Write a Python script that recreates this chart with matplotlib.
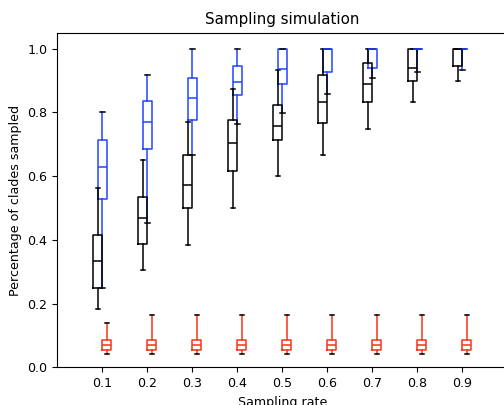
import matplotlib
matplotlib.use('Agg')
import matplotlib.pyplot as plt

# sampling rates
rates = ['0.1', '0.2', '0.3', '0.4', '0.5', '0.6', '0.7', '0.8', '0.9']

# black series (whisker low, q1, median, q3, whisker high)
black_lo = [0.182, 0.307, 0.383, 0.500, 0.600, 0.666, 0.749, 0.833, 0.899]
black_q1 = [0.250, 0.388, 0.500, 0.617, 0.714, 0.768, 0.833, 0.897, 0.945]
black_med = [0.333, 0.468, 0.571, 0.703, 0.756, 0.833, 0.888, 0.940, 1.0]
black_q3 = [0.416, 0.534, 0.666, 0.776, 0.822, 0.918, 0.954, 1.0, 1.0]
black_hi = [0.562, 0.651, 0.769, 0.874, 0.933, 1.0, 1.0, 1.0, 1.0]

# blue series
blue_lo = [0.250, 0.454, 0.666, 0.764, 0.799, 0.857, 0.908, 0.928, 0.933]
blue_q1 = [0.528, 0.686, 0.776, 0.856, 0.888, 0.927, 0.939, 1.0, 1.0]
blue_med = [0.628, 0.771, 0.845, 0.894, 0.936, 1.0, 1.0, 1.0, 1.0]
blue_q3 = [0.714, 0.835, 0.908, 0.944, 1.0, 1.0, 1.0, 1.0, 1.0]
blue_hi = [0.800, 0.917, 1.0, 1.0, 1.0, 1.0, 1.0, 1.0, 1.0]

# red series
red_lo = [0.042] * 9
red_q1 = [0.055] * 9
red_med = [0.069] * 9
red_q3 = [0.085] * 9
red_hi = [0.141, 0.166, 0.166, 0.166, 0.166, 0.166, 0.166, 0.166, 0.166]


def make_stats(lo, q1, med, q3, hi):
	return [dict(whislo=a, q1=b, med=c, q3=d, whishi=e, fliers=[])
		for a, b, c, d, e in zip(lo, q1, med, q3, hi)]


def draw(ax, stats, offset, color):
	pos = [i + 1 + offset for i in range(len(stats))]
	ax.bxp(stats, positions=pos, widths=0.2, manage_ticks=False,
		boxprops=dict(color=color, linewidth=1.1),
		whiskerprops=dict(color=color, linewidth=1.1),
		medianprops=dict(color=color, linewidth=1.1),
		capprops=dict(color='k', linewidth=1.1))


def main():
	fig = plt.figure(figsize=(5.04, 4.05), dpi=100)
	ax = fig.add_axes([0.1137, 0.0926, 0.8929, 0.8267])

	draw(ax, make_stats(blue_lo, blue_q1, blue_med, blue_q3, blue_hi), 0.0, '#2244ff')
	draw(ax, make_stats(black_lo, black_q1, black_med, black_q3, black_hi), -0.1, 'black')
	draw(ax, make_stats(red_lo, red_q1, red_med, red_q3, red_hi), 0.1, '#ff3018')

	ax.set_xlim(0, 10)
	ax.set_ylim(0, 1.05)
	ax.set_xticks(range(1, len(rates) + 1))
	ax.set_xticklabels(rates)
	ax.tick_params(labelsize=9.1)
	ax.set_xlabel('Sampling rate', fontsize=9.1)
	ax.set_ylabel('Percentage of clades sampled', fontsize=9.1)
	ax.set_title('Sampling simulation', fontsize=10.9)

	fig.savefig('out.png', dpi=100)

if __name__ == '__main__':
	main()
